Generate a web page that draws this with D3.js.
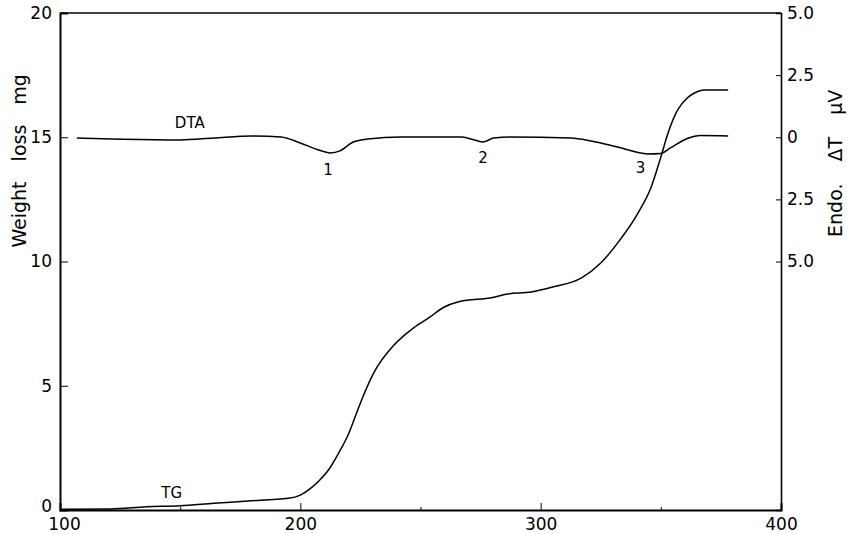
<!DOCTYPE html>
<html>
<head>
<meta charset="utf-8">
<script src="https://cdn.jsdelivr.net/npm/d3@7"></script>
<style>
  body { margin: 0; background: #fff; }
  text { font-family: "DejaVu Sans", sans-serif; fill: #000; }
  .axis path, .axis line { stroke: #000; }
  .axis text { font-size: 17px; }
</style>
</head>
<body>
<div id="chart"></div>
<script>
const margin = { top: 13, right: 69, bottom: 24, left: 60 };
const W = 850, H = 534;

// TG curve: temperature (x) and weight loss in mg (left axis)
const tgTemp = [100, 121, 136, 150, 164, 178, 195, 200, 204, 208, 212, 216, 220, 223, 226, 230.5, 239, 247, 254, 259.5, 265.5, 275, 279, 286, 296, 305, 317, 325, 333, 340.5, 346, 350, 353, 357, 361, 364, 368, 378];
const tgMg = [0.03, 0.04, 0.13, 0.17, 0.27, 0.36, 0.47, 0.6, 0.85, 1.2, 1.65, 2.3, 3.05, 3.8, 4.55, 5.51, 6.64, 7.32, 7.77, 8.15, 8.37, 8.49, 8.53, 8.69, 8.77, 8.97, 9.34, 9.94, 10.87, 11.95, 13.0, 14.2, 15.17, 16.1, 16.58, 16.78, 16.9, 16.9];

// DTA curve: temperature (x) and delta T in microvolts (right axis)
const dtaTemp = [107, 126, 150, 164, 180, 192, 200, 207, 212.5, 216.5, 222, 228, 242, 262, 267, 271, 276, 280.5, 287.5, 312.5, 321, 332, 344.5, 350, 354, 361, 366.5, 378];
const dtaDT = [-0.03, -0.08, -0.11, -0.03, 0.05, 0.01, -0.23, -0.49, -0.63, -0.55, -0.19, -0.07, 0.01, 0.01, 0.01, -0.07, -0.19, -0.03, 0.01, -0.03, -0.15, -0.39, -0.67, -0.65, -0.43, -0.05, 0.07, 0.05];

// tick values
const xMajor = [100, 200, 300, 400];
const xMinor = [150, 250, 350];
const leftTicks = [0, 5, 10, 15, 20];
const rightTicks = [5, 2.5, 0, -2.5, -5];

// curve labels, in temperature / mg coordinates
const labels = [
  { text: "DTA", t: 154, mg: 15.36 },
  { text: "1", t: 211.5, mg: 13.5 },
  { text: "2", t: 276, mg: 13.96 },
  { text: "3", t: 341.5, mg: 13.56 },
  { text: "TG", t: 146.5, mg: 0.48 }
];

const width = W - margin.left - margin.right;
const height = H - margin.top - margin.bottom;

const svg = d3.select('#chart').append('svg')
    .attr('width', W)
    .attr('height', H)
    .append('g')
    .attr('transform', `translate(${margin.left},${margin.top})`);

const x = d3.scaleLinear().domain([100, 400]).range([0, width]);
const yLeft = d3.scaleLinear().domain([0, 20]).range([height, 0]);
const yRight = d3.scaleLinear().domain([-15, 5]).range([height, 0]);

// frame top
svg.append('line')
    .attr('x1', 0).attr('x2', width)
    .attr('y1', 0).attr('y2', 0)
    .attr('stroke', '#000').attr('stroke-width', 1.6);

// bottom axis, ticks pointing inward
const xAxis = svg.append('g')
    .attr('class', 'axis')
    .attr('transform', `translate(0,${height})`)
    .call(d3.axisBottom(x).tickValues(xMajor).tickSize(-7).tickPadding(8).tickFormat(d3.format('d')));
xAxis.select('.domain').attr('stroke-width', 2);
xAxis.selectAll('.tick line').filter(d => d === 100 || d === 400).remove();
xAxis.selectAll('.tick text').filter(d => d === 100).attr('dx', 4);

svg.append('g')
    .attr('class', 'axis')
    .attr('transform', `translate(0,${height})`)
    .call(d3.axisBottom(x).tickValues(xMinor).tickSize(-3).tickFormat(''))
    .select('.domain').remove();

const lAxis = svg.append('g')
    .attr('class', 'axis')
    .call(d3.axisLeft(yLeft).tickValues(leftTicks).tickSize(-8).tickPadding(8).tickFormat(d3.format('d')));
lAxis.select('.domain').attr('stroke-width', 2);
lAxis.selectAll('.tick line').filter(d => d === 0 || d === 20).remove();
lAxis.selectAll('.tick text').filter(d => d === 0).attr('dy', '0.1em');

const rAxis = svg.append('g')
    .attr('class', 'axis')
    .attr('transform', `translate(${width},0)`)
    .call(d3.axisRight(yRight).tickValues(rightTicks).tickSize(-5).tickPadding(7)
        .tickFormat(d => d === 0 ? '0' : Math.abs(d).toFixed(1)));
rAxis.select('.domain').attr('stroke-width', 1.6);
rAxis.selectAll('.tick text').attr('dx', -1);

// axis titles
svg.append('text')
    .attr('transform', `translate(${-34},${yLeft(14.05)}) rotate(-90)`)
    .attr('text-anchor', 'middle')
    .style('font-size', '19px')
    .style('word-spacing', '14px')
    .text('Weight loss mg');

svg.append('text')
    .attr('transform', `translate(${width + 61},${yLeft(13.95)}) rotate(-90)`)
    .attr('text-anchor', 'middle')
    .style('font-size', '19px')
    .style('word-spacing', '16px')
    .text('Endo. ΔT μV');

// curves
const tgLine = d3.line()
    .x((d, i) => x(tgTemp[i]))
    .y(d => yLeft(d))
    .curve(d3.curveMonotoneX);

const dtaLine = d3.line()
    .x((d, i) => x(dtaTemp[i]))
    .y(d => yRight(d))
    .curve(d3.curveMonotoneX);

svg.append('path')
    .datum(tgMg)
    .attr('fill', 'none')
    .attr('stroke', '#000')
    .attr('stroke-width', 1.5)
    .attr('d', tgLine);

svg.append('path')
    .datum(dtaDT)
    .attr('fill', 'none')
    .attr('stroke', '#000')
    .attr('stroke-width', 1.5)
    .attr('d', dtaLine);

// curve labels
svg.selectAll('.curve-label')
    .data(labels)
    .join('text')
    .attr('class', 'curve-label')
    .attr('x', d => x(d.t))
    .attr('y', d => yLeft(d.mg))
    .attr('text-anchor', 'middle')
    .style('font-size', '15px')
    .text(d => d.text);
</script>
</body>
</html>
